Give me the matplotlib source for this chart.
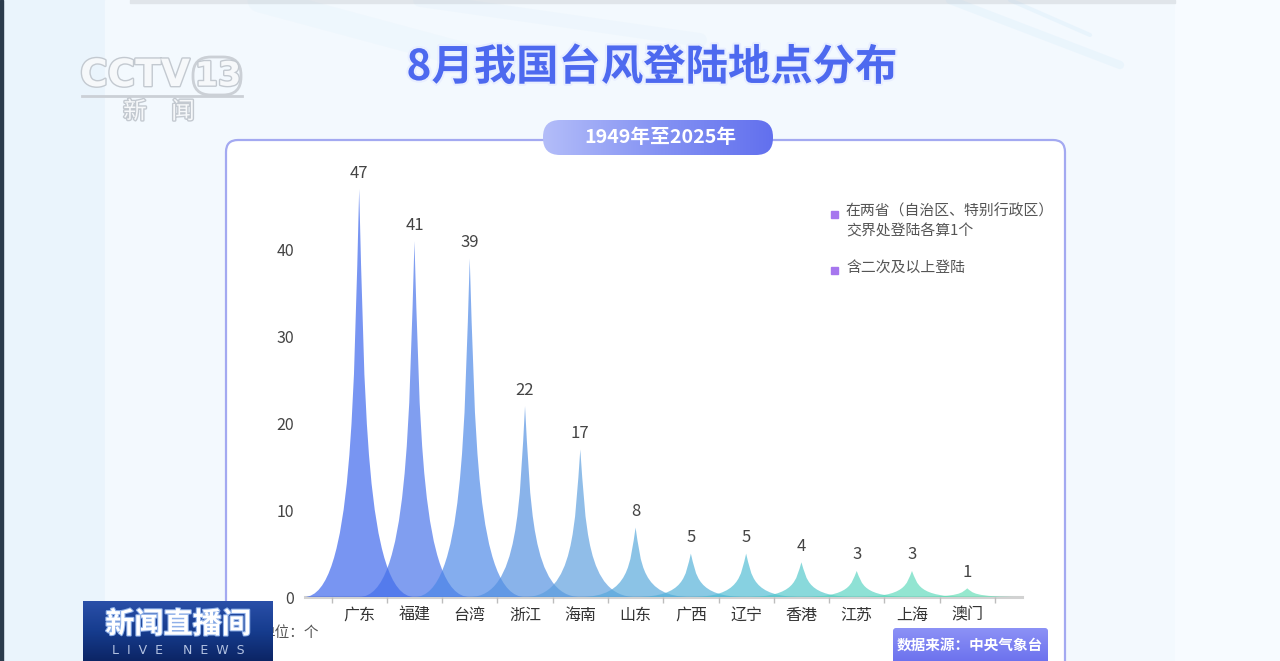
import numpy as np
import matplotlib

matplotlib.use("Agg")
import matplotlib.pyplot as plt
from matplotlib.patches import FancyBboxPatch, PathPatch, Rectangle
from matplotlib.path import Path
import matplotlib.patheffects as pe

plt.rcParams["font.family"] = ["Noto Sans CJK SC", "DejaVu Sans"]

PROVINCES = ["广东", "福建", "台湾", "浙江", "海南", "山东",
             "广西", "辽宁", "香港", "江苏", "上海", "澳门"]
LANDINGS = [47, 41, 39, 22, 17, 8, 5, 5, 4, 3, 3, 1]
Y_TICKS = [0, 10, 20, 30, 40]

TITLE = "8月我国台风登陆地点分布"
PERIOD = "1949年至2025年"
NOTES = ["在两省（自治区、特别行政区）\n交界处登陆各算1个", "含二次及以上登陆"]
UNIT = "单位：个"
SOURCE = "数据来源：中央气象台"

# spike colours, blue-violet on the left fading to mint on the right
SPIKE_COLORS = ["#3863ec", "#4470ea", "#4a86e7", "#5290e1", "#5b9ede", "#55a7db",
                "#51b0d8", "#4fbcd3", "#52c7ca", "#58d3c1", "#5edabc", "#65deb7"]

W, H = 1280, 661
fig = plt.figure(figsize=(W / 100, H / 100), dpi=100)

# ---- background layer in pixel coordinates ----
bg = fig.add_axes([0, 0, 1, 1])
bg.set_xlim(0, W)
bg.set_ylim(H, 0)
bg.axis("off")
bg.set_zorder(0)

bg.add_patch(Rectangle((0, 0), W, H, color="#eaf4fc", zorder=0))
bg.add_patch(Rectangle((105, 0), 1070, H, color="#f3f9fe", zorder=0.1))
bg.add_patch(Rectangle((1175, 0), 105, H, color="#f7fbff", zorder=0.1))
bg.add_patch(Rectangle((0, 0), 3, H, color="#2b3b4c", zorder=0.2))
bg.add_patch(Rectangle((130, 0), 1045, 3, color="#e0e5ea", zorder=0.2))

# faint light streaks at the top
for xa, xb, yb, lw, a in [(260, 520, 70, 18, 0.05), (420, 700, 40, 10, 0.06),
                          (950, 1120, 65, 6, 0.10), (1010, 1090, 35, 3, 0.12)]:
    bg.plot([xa, xb], [0, yb], color="#9fd3f4", lw=lw, alpha=a,
            solid_capstyle="round", zorder=0.3)

# CCTV-13 logo (semi transparent overlay)
logo_fx = [pe.withStroke(linewidth=2.0, foreground="#c3c9d0")]
bg.text(135, 76, "CCTV", fontsize=27, fontweight="bold", color="#f6f8fa",
        ha="center", va="center", family="DejaVu Sans", path_effects=logo_fx, zorder=1)
bg.add_patch(FancyBboxPatch((193, 57), 48, 38, boxstyle="round,pad=0,rounding_size=18",
                            fc="none", ec="#cbd0d6", lw=2, zorder=1))
bg.text(218, 76, "13", fontsize=24, fontweight="bold", color="#f6f8fa",
        ha="center", va="center", family="DejaVu Sans", path_effects=logo_fx, zorder=1)
bg.plot([82, 242], [96, 96], color="#cbd0d6", lw=2, zorder=1)
bg.text(135, 112, "新", fontsize=17, color="#f6f8fa", ha="center", va="center",
        path_effects=logo_fx, zorder=1)
bg.text(183, 112, "闻", fontsize=17, color="#f6f8fa", ha="center", va="center",
        path_effects=logo_fx, zorder=1)

# title
bg.text(652, 68, TITLE, fontsize=30.5, fontweight="bold", color="#4d69ef",
        ha="center", va="center", zorder=2,
        path_effects=[pe.withStroke(linewidth=3, foreground="#e9efff")])

# white panel with lavender border
panel = FancyBboxPatch((226, 140), 839, 600, boxstyle="round,pad=0,rounding_size=12",
                       fc="white", ec="#a3a9f1", lw=1.6, zorder=1)
bg.add_patch(panel)

# period pill with horizontal gradient
pill = FancyBboxPatch((543, 120), 230, 35, boxstyle="round,pad=0,rounding_size=17",
                      fc="none", ec="none", zorder=3)
bg.add_patch(pill)
grad = np.linspace(0, 1, 256).reshape(1, -1)
pill_cmap = matplotlib.colors.LinearSegmentedColormap.from_list(
    "pill", ["#b3bdf9", "#8593f3", "#6270ee"])
im = bg.imshow(grad, cmap=pill_cmap, extent=[543, 773, 155, 120], aspect="auto", zorder=3)
im.set_clip_path(pill)
bg.text(660, 137.5, PERIOD, fontsize=14.2, fontweight="bold", color="white",
        ha="center", va="center", zorder=4)

# notes at the top right
note_y = [214, 270]
for y, note in zip(note_y, NOTES):
    bg.add_patch(Rectangle((831, y - 3.5), 7, 7, color="#a676ee", zorder=3))
    bg.text(846, y - 9.5, note, fontsize=10.7, color="#555555", ha="left", va="top",
            linespacing=1.45, zorder=3)

# unit text, partly covered by the live-news logo
bg.text(319, 633, UNIT, fontsize=10.5, color="#555555", ha="right", va="center", zorder=2)

# data-source badge
src = FancyBboxPatch((893, 628), 155, 40, boxstyle="round,pad=0,rounding_size=3",
                     fc="none", ec="none", zorder=3)
bg.add_patch(src)
src_cmap = matplotlib.colors.LinearSegmentedColormap.from_list("src", ["#8c92f6", "#6d72ee"])
im2 = bg.imshow(np.linspace(0, 1, 64).reshape(-1, 1), cmap=src_cmap,
                extent=[893, 1048, 661, 628], aspect="auto", zorder=3)
im2.set_clip_path(src)
bg.text(970, 645, SOURCE, fontsize=10.5, fontweight="bold", color="white",
        ha="center", va="center", zorder=4)

# live-news logo
live = Rectangle((83, 601), 190, 60, fc="none", ec="none", zorder=5)
bg.add_patch(live)
live_cmap = matplotlib.colors.LinearSegmentedColormap.from_list(
    "live", ["#2a4fa8", "#163c8e", "#0c2565"])
im3 = bg.imshow(np.linspace(0, 1, 64).reshape(-1, 1), cmap=live_cmap,
                extent=[83, 273, 661, 601], aspect="auto", zorder=5)
im3.set_clip_path(live)
bg.text(178, 624, "新闻直播间", fontsize=21, fontweight="bold", color="white",
        ha="center", va="center", zorder=6,
        path_effects=[pe.withStroke(linewidth=1.5, foreground="#8fb0e8")])
bg.text(178, 650, "L  I  V  E     N  E  W  S", fontsize=9, color="#cfdcf5",
        ha="center", va="center", family="DejaVu Sans", alpha=0.85, zorder=6)

# ---- chart axes ----
x0_px, x1_px, y0_px, ytop_px = 305, 1022, 597, 163
ax = fig.add_axes([x0_px / W, (H - y0_px) / H, (x1_px - x0_px) / W, (y0_px - ytop_px) / H])
ax.set_zorder(2)
ax.patch.set_alpha(0)
ax.set_xlim(-0.98, 11.99)
ax.set_ylim(0, 50)

for i, (v, c) in enumerate(zip(LANDINGS, SPIKE_COLORS)):
    verts = [(i - 1, 0), (i + 1, 0),
             (i + 0.1, 0), (i + 0.1, v / 2), (i, v),
             (i - 0.1, v / 2), (i - 0.1, 0), (i - 1, 0),
             (i - 1, 0)]
    codes = [Path.MOVETO, Path.LINETO,
             Path.CURVE4, Path.CURVE4, Path.CURVE4,
             Path.CURVE4, Path.CURVE4, Path.CURVE4,
             Path.CLOSEPOLY]
    ax.add_patch(PathPatch(Path(verts, codes), fc=c, ec="none", alpha=0.68, zorder=2))
    ax.annotate(str(v), (i, v), xytext=(0, 11.5), textcoords="offset points",
                ha="center", va="center", fontsize=12, color="#444444")

ax.set_yticks(Y_TICKS)
ax.tick_params(axis="y", length=0, pad=8, labelsize=11.5, labelcolor="#444444")

ax.set_xticks(np.arange(-0.5, len(PROVINCES), 1.0))
ax.set_xticklabels([])
ax.set_xticks(range(len(PROVINCES)), minor=True)
ax.set_xticklabels(PROVINCES, minor=True)
ax.tick_params(axis="x", which="major", length=4, width=1, color="#bdbdbd")
ax.tick_params(axis="x", which="minor", length=0, pad=7, labelsize=11.5,
               labelcolor="#333333")

for side in ["left", "right", "top"]:
    ax.spines[side].set_visible(False)
ax.spines["bottom"].set_color("#d2d2d2")
ax.spines["bottom"].set_linewidth(2.2)
ax.spines["bottom"].set_zorder(1)

fig.savefig("out.png", dpi=100)
